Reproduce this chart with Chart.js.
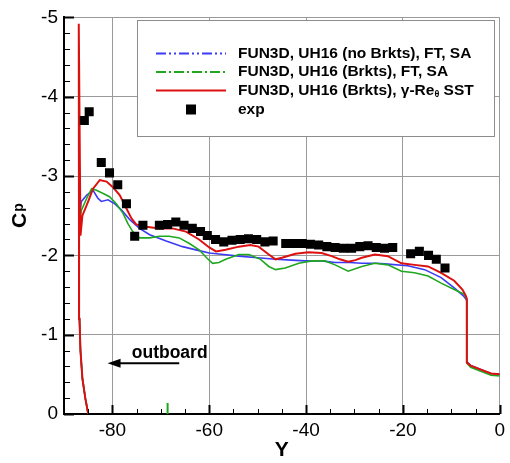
<!DOCTYPE html>
<html>
<head>
<meta charset="utf-8">
<script src="https://cdn.jsdelivr.net/npm/chart.js@4.4.0/dist/chart.umd.min.js"></script>
<style>
  html, body { margin: 0; padding: 0; background: #fff; }
  #wrap { width: 510px; height: 463px; }
</style>
</head>
<body>
<div id="wrap"><canvas id="cpChart" width="510" height="463"></canvas></div>
<script>
// spanwise station Y and pressure coefficient Cp
const noBrktsY = [-85.0, -85.6, -86.2, -86.6, -86.8, -86.9, -86.8, -86.4, -85.3, -84.0, -83.0, -82.3, -80.9, -79.5, -78.1, -76.4, -74.4, -72.3, -68.9, -65.5, -62.1, -60.0, -57.0, -53.9, -50.0, -46.3, -43.0, -40.2, -36.8, -34.0, -31.0, -28.5, -25.5, -23.1, -19.0, -15.5, -12.1, -9.4, -7.5, -7.0, -6.8, -6.8, -6.0, -3.9, -1.8, 0];
const noBrktsCp = [0, -0.2, -0.45, -0.8, -1.2, -1.8, -2.5, -2.68, -2.76, -2.82, -2.72, -2.68, -2.70, -2.65, -2.57, -2.45, -2.34, -2.26, -2.18, -2.11, -2.06, -2.03, -2.01, -1.99, -1.97, -1.95, -1.94, -1.93, -1.93, -1.91, -1.91, -1.90, -1.90, -1.89, -1.87, -1.82, -1.72, -1.59, -1.49, -1.45, -1.43, -0.66, -0.61, -0.56, -0.51, -0.50];

const brktsY = [-85.0, -85.6, -86.2, -86.6, -86.8, -86.9, -86.8, -86.4, -85.3, -84.3, -83.3, -81.9, -80.6, -79.2, -77.8, -76.8, -75.8, -74.4, -72.3, -70.3, -68.3, -66.2, -64.1, -62.1, -60.4, -59.3, -58.0, -56.6, -53.9, -51.8, -49.4, -47.7, -46.3, -44.3, -41.5, -38.8, -36.1, -34.0, -31.3, -28.5, -25.8, -23.1, -20.3, -17.6, -14.8, -12.1, -9.4, -7.3, -7.0, -6.8, -6.8, -6.0, -3.9, -1.8, 0];
const brktsCp = [0, -0.2, -0.45, -0.8, -1.2, -1.8, -2.4, -2.57, -2.72, -2.84, -2.82, -2.78, -2.74, -2.65, -2.53, -2.40, -2.30, -2.22, -2.22, -2.24, -2.24, -2.22, -2.15, -2.07, -1.96, -1.90, -1.91, -1.95, -2.01, -2.01, -1.95, -1.86, -1.82, -1.84, -1.90, -1.93, -1.93, -1.88, -1.80, -1.86, -1.90, -1.88, -1.80, -1.78, -1.74, -1.65, -1.57, -1.51, -1.47, -1.45, -0.64, -0.59, -0.54, -0.49, -0.48];

const sstY = [-85.0, -85.6, -86.2, -86.6, -86.8, -86.9, -86.95, -86.6, -86.2, -85.0, -84.0, -82.6, -81.2, -79.9, -78.5, -77.1, -76.1, -75.1, -73.0, -70.3, -67.6, -64.8, -62.1, -60.0, -58.6, -56.6, -53.9, -51.5, -49.8, -47.7, -46.3, -45.0, -42.2, -39.5, -36.8, -34.7, -33.0, -31.3, -29.8, -28.5, -25.8, -23.1, -20.3, -17.6, -14.8, -12.1, -9.4, -7.7, -7.0, -6.8, -6.8, -6.0, -3.9, -1.8, 0];
const sstCp = [0, -0.2, -0.45, -0.8, -1.2, -1.8, -4.92, -2.25, -2.5, -2.68, -2.84, -2.95, -2.93, -2.86, -2.76, -2.59, -2.47, -2.39, -2.36, -2.34, -2.34, -2.30, -2.20, -2.10, -2.05, -2.07, -2.11, -2.13, -2.11, -2.01, -1.95, -1.97, -2.02, -2.04, -2.03, -1.99, -1.95, -1.92, -1.94, -1.97, -2.01, -1.99, -1.90, -1.88, -1.86, -1.78, -1.68, -1.57, -1.49, -1.45, -0.65, -0.61, -0.56, -0.51, -0.50];

// stray green segment near the bottom axis
const strayY = [-68.6, -68.6];
const strayCp = [0, -0.14];

const expY = [-85.8, -84.8, -82.3, -80.6, -78.9, -77.1, -75.4, -73.7, -70.3, -68.6, -66.9, -65.2, -63.5, -61.8, -60.4, -58.7, -57.0, -55.3, -53.6, -51.9, -50.2, -48.5, -46.8, -44.2, -42.5, -40.8, -39.1, -37.4, -35.7, -34.0, -32.3, -30.6, -28.9, -27.2, -25.5, -23.8, -22.1, -18.4, -16.6, -14.7, -13.1, -11.3];
const expCp = [-3.70, -3.81, -3.17, -3.04, -2.89, -2.65, -2.24, -2.38, -2.38, -2.39, -2.42, -2.38, -2.34, -2.30, -2.25, -2.20, -2.17, -2.19, -2.20, -2.21, -2.20, -2.17, -2.18, -2.15, -2.15, -2.15, -2.14, -2.13, -2.11, -2.10, -2.09, -2.09, -2.11, -2.12, -2.10, -2.09, -2.10, -2.02, -2.05, -2.00, -1.95, -1.84];

const xTicks = [-80, -60, -40, -20, 0];
const yTicks = [-5, -4, -3, -2, -1, 0];

const FONT = "'Liberation Sans', Arial, Helvetica, sans-serif";
const BLUE = '#3b3bf5';
const GREEN = '#1fa81f';
const RED = '#dd1010';

function toPoints(xs, ys) {
    return xs.map((x, i) => ({ x: x, y: ys[i] }));
}

const legendItems = [
    { text: 'FUN3D, UH16 (no Brkts), FT, SA', color: BLUE, dash: [10, 3, 2, 3, 2, 3] },
    { text: 'FUN3D, UH16 (Brkts), FT, SA', color: GREEN, dash: [10, 3, 2, 3] },
    { text: 'FUN3D, UH16 (Brkts), \u03b3-Re', sub: '\u03b8', after: ' SST', color: RED, dash: [] },
    { text: 'exp', marker: true }
];

// inward tick marks, axis titles, legend box and the "outboard" arrow
const decorPlugin = {
    id: 'decor',
    afterDraw(chart) {
        const ctx = chart.ctx;
        const area = chart.chartArea;
        const xs = chart.scales.x;
        const ys = chart.scales.y;

        ctx.save();
        ctx.strokeStyle = '#000';
        for (let v = -85; v <= 0; v += 5) {
            const px = Math.round(xs.getPixelForValue(v)) + 0.5;
            const major = v % 20 === 0;
            ctx.lineWidth = major ? 2 : 1;
            ctx.beginPath();
            ctx.moveTo(px, area.bottom);
            ctx.lineTo(px, area.bottom - (major ? 9 : 5));
            ctx.stroke();
        }
        for (let i = 0; i <= 25; i++) {
            const v = -i * 0.2;
            const py = Math.round(ys.getPixelForValue(v)) + 0.5;
            const major = i % 5 === 0;
            ctx.lineWidth = major ? 2 : 1;
            ctx.beginPath();
            ctx.moveTo(area.left, py);
            ctx.lineTo(area.left + (major ? 10 : 6), py);
            ctx.stroke();
        }

        // axis titles
        ctx.fillStyle = '#000';
        ctx.font = 'bold 21px ' + FONT;
        ctx.textAlign = 'center';
        ctx.textBaseline = 'middle';
        ctx.fillText('Y', (area.left + area.right) / 2, 450);

        ctx.save();
        ctx.translate(26, 228);
        ctx.rotate(-Math.PI / 2);
        ctx.textAlign = 'left';
        ctx.textBaseline = 'alphabetic';
        ctx.font = 'bold 21px ' + FONT;
        ctx.fillText('C', 0, 0);
        const cw = ctx.measureText('C').width;
        ctx.font = 'bold 14px ' + FONT;
        ctx.fillText('p', cw + 1, -3);
        ctx.restore();

        // legend
        const box = { left: 137.5, top: 20.5, right: 494.5, bottom: 136.5 };
        ctx.fillStyle = '#fff';
        ctx.fillRect(box.left, box.top, box.right - box.left, box.bottom - box.top);
        ctx.strokeStyle = '#8c8c8c';
        ctx.lineWidth = 1;
        ctx.strokeRect(box.left, box.top, box.right - box.left, box.bottom - box.top);

        const rowY = [53.5, 72, 90.5, 109.5];
        const mainFont = 'bold 15.5px ' + FONT;
        legendItems.forEach((item, i) => {
            const y = rowY[i];
            if (item.marker) {
                ctx.fillStyle = '#000';
                ctx.fillRect(186, y - 5, 10, 10);
            } else {
                ctx.strokeStyle = item.color;
                ctx.lineWidth = 2;
                ctx.setLineDash(item.dash);
                ctx.beginPath();
                ctx.moveTo(156, y);
                ctx.lineTo(226, y);
                ctx.stroke();
                ctx.setLineDash([]);
            }
            ctx.fillStyle = '#000';
            ctx.font = mainFont;
            ctx.textAlign = 'left';
            ctx.textBaseline = 'middle';
            let tx = 238;
            ctx.fillText(item.text, tx, y);
            if (item.sub) {
                tx += ctx.measureText(item.text).width;
                ctx.font = 'bold 9px ' + FONT;
                ctx.fillText(item.sub, tx, y + 4.5);
                tx += ctx.measureText(item.sub).width;
                ctx.font = mainFont;
                ctx.fillText(item.after, tx, y);
            }
        });

        // "outboard" annotation placed in data coordinates
        ctx.fillStyle = '#000';
        ctx.font = 'bold 17.5px ' + FONT;
        ctx.textAlign = 'left';
        ctx.textBaseline = 'alphabetic';
        ctx.fillText('outboard', xs.getPixelForValue(-76.0), ys.getPixelForValue(-0.71));

        const ay = ys.getPixelForValue(-0.64);
        const tail = xs.getPixelForValue(-66.2);
        const tip = xs.getPixelForValue(-81.0);
        ctx.strokeStyle = '#000';
        ctx.lineWidth = 2;
        ctx.beginPath();
        ctx.moveTo(tail, ay);
        ctx.lineTo(tip + 8, ay);
        ctx.stroke();
        ctx.beginPath();
        ctx.moveTo(tip, ay);
        ctx.lineTo(tip + 13, ay - 4.5);
        ctx.lineTo(tip + 13, ay + 4.5);
        ctx.closePath();
        ctx.fill();
        ctx.restore();
    }
};

const lineDefaults = { showLine: true, pointRadius: 0, tension: 0, fill: false };

new Chart(document.getElementById('cpChart'), {
    type: 'scatter',
    data: {
        datasets: [
            { ...lineDefaults, label: 'exp', data: toPoints(expY, expCp), showLine: false, pointStyle: 'rect', pointRadius: 6.4, backgroundColor: '#000', borderColor: '#000', borderWidth: 0, order: 0 },
            { ...lineDefaults, label: 'FUN3D, UH16 (Brkts), γ-Reθ SST', data: toPoints(sstY, sstCp), borderColor: RED, borderWidth: 2, order: 1 },
            { ...lineDefaults, label: 'FUN3D, UH16 (Brkts), FT, SA', data: toPoints(brktsY, brktsCp), borderColor: GREEN, borderWidth: 1.6, order: 2 },
            { ...lineDefaults, label: 'FUN3D, UH16 (no Brkts), FT, SA', data: toPoints(noBrktsY, noBrktsCp), borderColor: BLUE, borderWidth: 1.6, order: 3 },
            { ...lineDefaults, label: 'stray', data: toPoints(strayY, strayCp), borderColor: GREEN, borderWidth: 2, order: 4 }
        ]
    },
    options: {
        responsive: false,
        animation: false,
        devicePixelRatio: 1,
        layout: { padding: { top: 14, right: 7, left: 0, bottom: 0 } },
        plugins: { legend: { display: false }, tooltip: { enabled: false } },
        scales: {
            x: {
                type: 'linear', min: -90, max: 0,
                afterBuildTicks: s => { s.ticks = xTicks.map(v => ({ value: v })); },
                afterFit: s => { s.height = 49; },
                ticks: { color: '#000', padding: 5, maxRotation: 0, font: { family: FONT, size: 19 } },
                grid: { color: '#9a9a9a', lineWidth: 1, drawTicks: false },
                border: { color: '#000', width: 2 }
            },
            y: {
                type: 'linear', min: -5, max: 0, reverse: true,
                afterBuildTicks: s => { s.ticks = yTicks.map(v => ({ value: v })); },
                afterFit: s => { s.width = 64; },
                ticks: { color: '#000', padding: 6, font: { family: FONT, size: 19 } },
                grid: { color: '#9a9a9a', lineWidth: 1, drawTicks: false },
                border: { color: '#000', width: 2 }
            }
        }
    },
    plugins: [decorPlugin]
});
</script>
</body>
</html>
